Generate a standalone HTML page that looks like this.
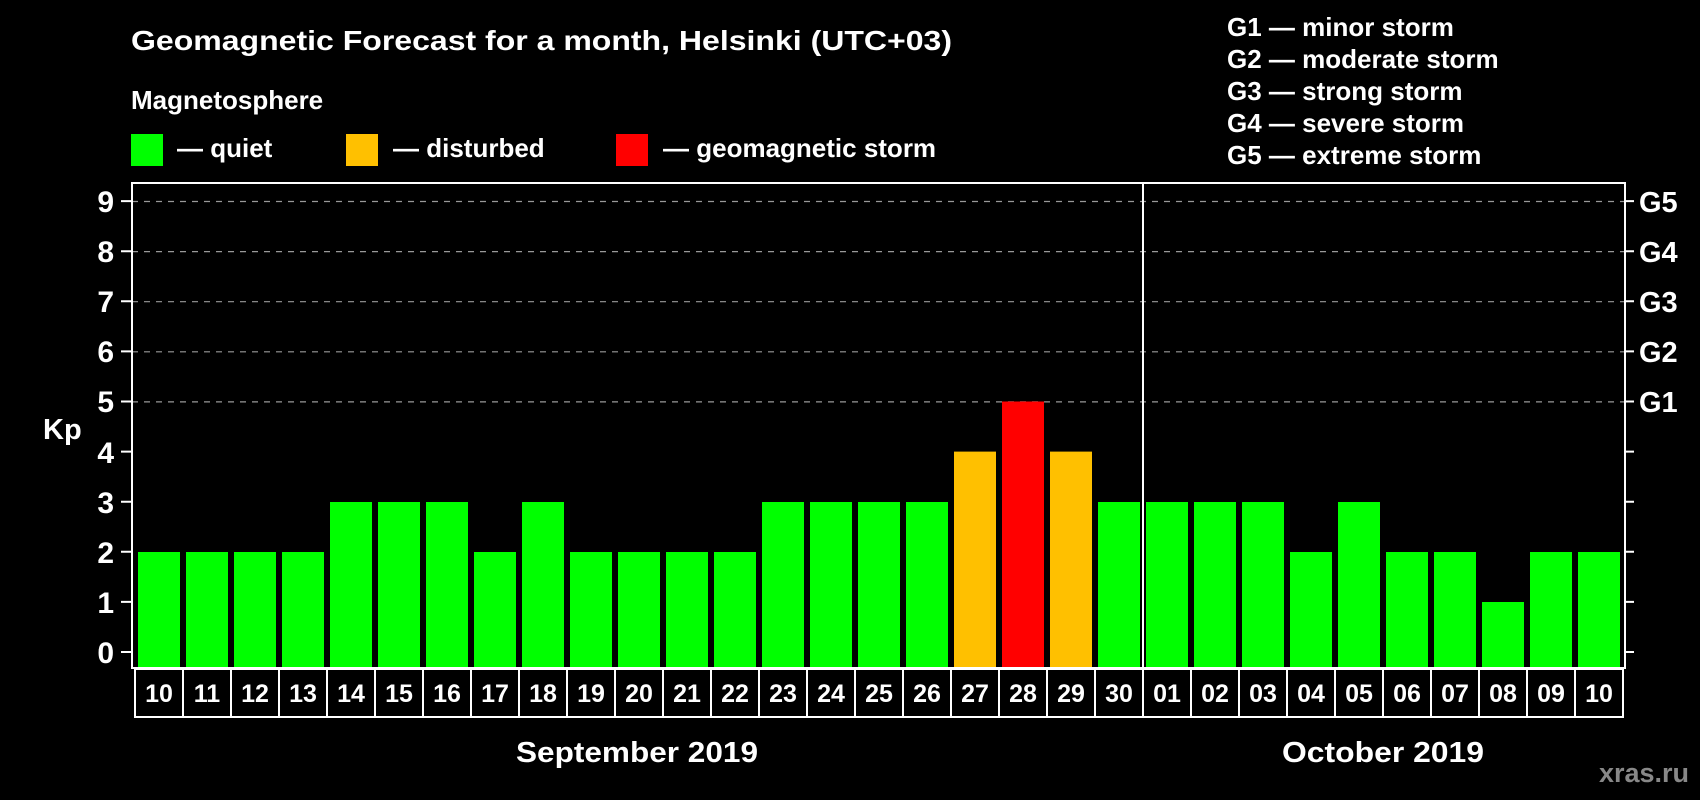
<!DOCTYPE html>
<html><head><meta charset="utf-8"><style>html,body{margin:0;padding:0;background:#000;}svg{display:block}</style></head>
<body>
<svg width="1700" height="800" viewBox="0 0 1700 800" xmlns="http://www.w3.org/2000/svg" font-family="Liberation Sans, Arial, sans-serif" font-weight="bold" fill="#fff">
<rect width="1700" height="800" fill="#000"/>
<text x="131" y="50" font-size="28" textLength="821" lengthAdjust="spacingAndGlyphs">Geomagnetic Forecast for a month, Helsinki (UTC+03)</text>
<text x="131" y="109" font-size="26">Magnetosphere</text>
<rect x="131" y="134" width="32" height="32" fill="#00FF00"/>
<text x="177" y="157" font-size="26">— quiet</text>
<rect x="346" y="134" width="32" height="32" fill="#FFC000"/>
<text x="393" y="157" font-size="26">— disturbed</text>
<rect x="616" y="134" width="32" height="32" fill="#FF0000"/>
<text x="663" y="157" font-size="26">— geomagnetic storm</text>
<g font-size="26">
<text x="1227" y="36">G1 — minor storm</text>
<text x="1227" y="68">G2 — moderate storm</text>
<text x="1227" y="100">G3 — strong storm</text>
<text x="1227" y="132">G4 — severe storm</text>
<text x="1227" y="164">G5 — extreme storm</text>
</g>
<g stroke="#999" stroke-width="1.2" stroke-dasharray="6,6">
<line x1="132" y1="201.5" x2="1624" y2="201.5"/>
<line x1="132" y1="251.6" x2="1624" y2="251.6"/>
<line x1="132" y1="301.7" x2="1624" y2="301.7"/>
<line x1="132" y1="351.8" x2="1624" y2="351.8"/>
<line x1="132" y1="401.9" x2="1624" y2="401.9"/>
</g>
<g>
<rect x="138" y="552" width="42" height="116" fill="#00FF00"/>
<rect x="186" y="552" width="42" height="116" fill="#00FF00"/>
<rect x="234" y="552" width="42" height="116" fill="#00FF00"/>
<rect x="282" y="552" width="42" height="116" fill="#00FF00"/>
<rect x="330" y="502" width="42" height="166" fill="#00FF00"/>
<rect x="378" y="502" width="42" height="166" fill="#00FF00"/>
<rect x="426" y="502" width="42" height="166" fill="#00FF00"/>
<rect x="474" y="552" width="42" height="116" fill="#00FF00"/>
<rect x="522" y="502" width="42" height="166" fill="#00FF00"/>
<rect x="570" y="552" width="42" height="116" fill="#00FF00"/>
<rect x="618" y="552" width="42" height="116" fill="#00FF00"/>
<rect x="666" y="552" width="42" height="116" fill="#00FF00"/>
<rect x="714" y="552" width="42" height="116" fill="#00FF00"/>
<rect x="762" y="502" width="42" height="166" fill="#00FF00"/>
<rect x="810" y="502" width="42" height="166" fill="#00FF00"/>
<rect x="858" y="502" width="42" height="166" fill="#00FF00"/>
<rect x="906" y="502" width="42" height="166" fill="#00FF00"/>
<rect x="954" y="451.6" width="42" height="216.4" fill="#FFC000"/>
<rect x="1002" y="401.5" width="42" height="266.5" fill="#FF0000"/>
<rect x="1050" y="451.6" width="42" height="216.4" fill="#FFC000"/>
<rect x="1098" y="502" width="42" height="166" fill="#00FF00"/>
<rect x="1146" y="502" width="42" height="166" fill="#00FF00"/>
<rect x="1194" y="502" width="42" height="166" fill="#00FF00"/>
<rect x="1242" y="502" width="42" height="166" fill="#00FF00"/>
<rect x="1290" y="552" width="42" height="116" fill="#00FF00"/>
<rect x="1338" y="502" width="42" height="166" fill="#00FF00"/>
<rect x="1386" y="552" width="42" height="116" fill="#00FF00"/>
<rect x="1434" y="552" width="42" height="116" fill="#00FF00"/>
<rect x="1482" y="602" width="42" height="66" fill="#00FF00"/>
<rect x="1530" y="552" width="42" height="116" fill="#00FF00"/>
<rect x="1578" y="552" width="42" height="116" fill="#00FF00"/>
</g>
<g fill="none" stroke="#fff" stroke-width="2">
<rect x="135" y="669" width="1488" height="48"/>
<path d="M183 669V717M231 669V717M279 669V717M327 669V717M375 669V717M423 669V717M471 669V717M519 669V717M567 669V717M615 669V717M663 669V717M711 669V717M759 669V717M807 669V717M855 669V717M903 669V717M951 669V717M999 669V717M1047 669V717M1095 669V717M1143 669V717M1191 669V717M1239 669V717M1287 669V717M1335 669V717M1383 669V717M1431 669V717M1479 669V717M1527 669V717M1575 669V717"/>
<path d="M121 652H131M121 601.9H131M121 551.8H131M121 501.7H131M121 451.6H131M121 401.5H131M121 351.4H131M121 301.3H131M121 251.2H131M121 201.1H131"/>
<path d="M1625 652H1634M1625 601.9H1634M1625 551.8H1634M1625 501.7H1634M1625 451.6H1634M1625 401.5H1634M1625 351.4H1634M1625 301.3H1634M1625 251.2H1634M1625 201.1H1634"/>
</g>
<g font-size="25" text-anchor="middle">
<text x="159" y="702">10</text><text x="207" y="702">11</text><text x="255" y="702">12</text><text x="303" y="702">13</text><text x="351" y="702">14</text><text x="399" y="702">15</text><text x="447" y="702">16</text><text x="495" y="702">17</text><text x="543" y="702">18</text><text x="591" y="702">19</text><text x="639" y="702">20</text><text x="687" y="702">21</text><text x="735" y="702">22</text><text x="783" y="702">23</text><text x="831" y="702">24</text><text x="879" y="702">25</text><text x="927" y="702">26</text><text x="975" y="702">27</text><text x="1023" y="702">28</text><text x="1071" y="702">29</text><text x="1119" y="702">30</text><text x="1167" y="702">01</text><text x="1215" y="702">02</text><text x="1263" y="702">03</text><text x="1311" y="702">04</text><text x="1359" y="702">05</text><text x="1407" y="702">06</text><text x="1455" y="702">07</text><text x="1503" y="702">08</text><text x="1551" y="702">09</text><text x="1599" y="702">10</text>
</g>
<g font-size="30" text-anchor="end">
<text x="114" y="663">0</text><text x="114" y="613">1</text><text x="114" y="563">2</text><text x="114" y="513">3</text><text x="114" y="463">4</text><text x="114" y="412">5</text><text x="114" y="362">6</text><text x="114" y="312">7</text><text x="114" y="262">8</text><text x="114" y="212">9</text>
</g>
<g font-size="29">
<text x="1639" y="412">G1</text><text x="1639" y="362">G2</text><text x="1639" y="312">G3</text><text x="1639" y="262">G4</text><text x="1639" y="212">G5</text>
</g>
<rect x="132" y="183" width="1493" height="485" fill="none" stroke="#fff" stroke-width="2"/>
<line x1="1143" y1="183" x2="1143" y2="668" stroke="#fff" stroke-width="2"/>
<text x="43" y="439" font-size="29">Kp</text>
<text x="516" y="762" font-size="29" textLength="242" lengthAdjust="spacingAndGlyphs">September 2019</text>
<text x="1282" y="762" font-size="29" textLength="202" lengthAdjust="spacingAndGlyphs">October 2019</text>
<text x="1689" y="782" font-size="27" text-anchor="end" fill="#888">xras.ru</text>
</svg>
</body></html>
